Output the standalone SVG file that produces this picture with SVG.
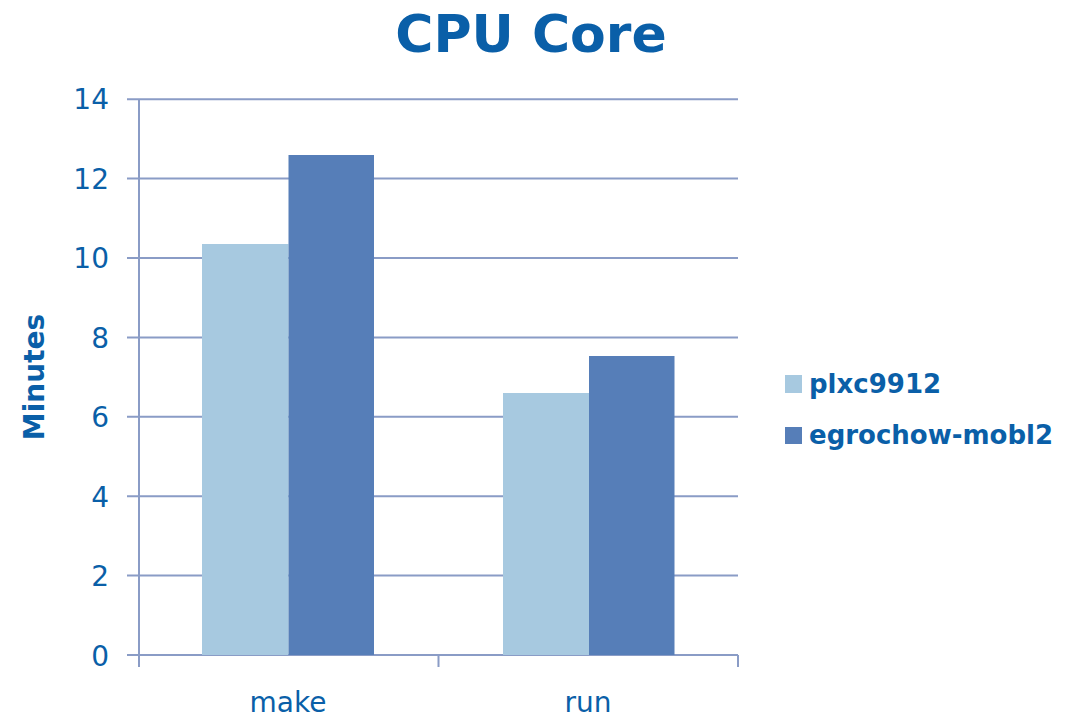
<svg xmlns="http://www.w3.org/2000/svg" width="1076" height="718" viewBox="0 0 1076 718">
<style>
.grid{stroke:#8a9cc6;stroke-width:2;fill:none}
.t{fill:#0a5fa8;font-family:"DejaVu Sans",Verdana,sans-serif}
.tick{font-size:28px;text-anchor:end}
.cat{font-size:28px;text-anchor:middle}
.leg{font-size:26px;font-weight:bold}
.s1{fill:#a7c9e0}
.s2{fill:#567eb8}
</style>
<rect width="1076" height="718" fill="#ffffff"/>
<text id="title" class="t" x="531" y="52" font-size="52" font-weight="bold" text-anchor="middle">CPU Core</text>
<g id="grid">
<path class="grid" d="M127 99.2H738M127 178.6H738M127 258H738M127 337.4H738M127 416.8H738M127 496.2H738M127 575.6H738"/>
</g>
<g id="axes">
<path class="grid" d="M139 99.2V655M127 655H738M139 655V667M438.5 655V667M738 655V667"/>
</g>
<g id="ylabels" class="t tick">
<text x="109" y="109">14</text>
<text x="109" y="189">12</text>
<text x="109" y="268">10</text>
<text x="109" y="348">8</text>
<text x="109" y="427">6</text>
<text x="109" y="507">4</text>
<text x="109" y="586">2</text>
<text x="109" y="666">0</text>
</g>
<text id="ytitle" class="t" font-size="28" font-weight="bold" text-anchor="middle" transform="translate(44 377) rotate(-90)">Minutes</text>
<g id="bars">
<rect class="s1" x="202" y="244" width="86.5" height="411"/>
<rect class="s2" x="288.5" y="155" width="85.5" height="500"/>
<rect class="s1" x="503" y="393" width="86" height="262"/>
<rect class="s2" x="589" y="356" width="85.5" height="299"/>
</g>
<g id="xlabels" class="t cat">
<text x="288" y="712">make</text>
<text x="588" y="712">run</text>
</g>
<g id="legend">
<rect class="s1" x="785" y="375" width="17" height="18"/>
<text class="t leg" x="809" y="393">plxc9912</text>
<rect class="s2" x="785" y="427" width="17" height="17"/>
<text class="t leg" x="809" y="444">egrochow-mobl2</text>
</g>
</svg>
